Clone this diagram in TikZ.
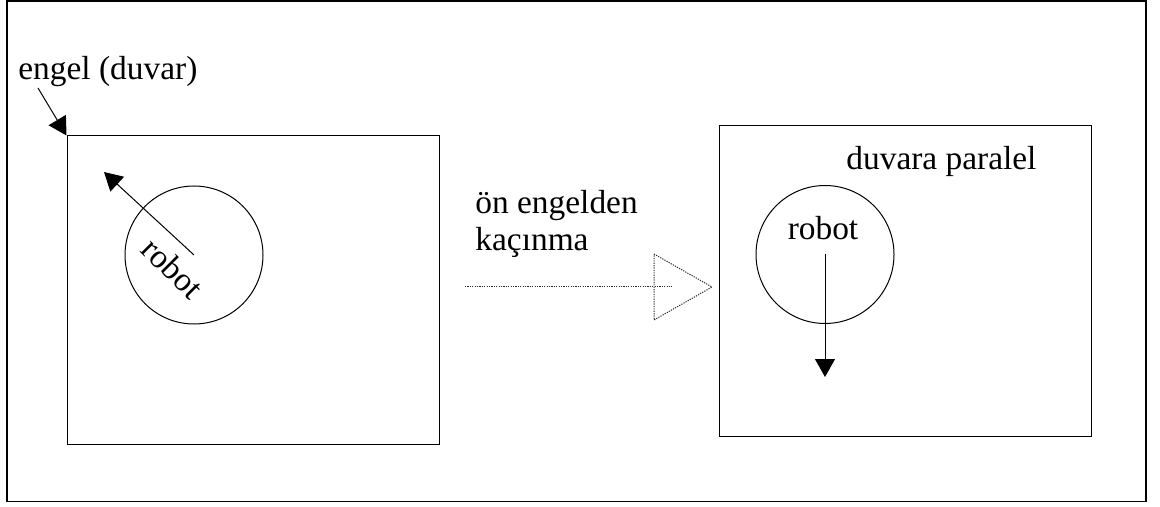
\documentclass[tikz,border=0pt]{standalone}
\usepackage{fontspec}
\setmainfont{Liberation Serif}
\usetikzlibrary{positioning}
\usetikzlibrary{arrows.meta}
\tikzset{
	every node/.style = {font=\fontsize{16.7}{18.5}\selectfont},
	yazi/.style = {inner sep=0pt},
	kutu/.style = {draw, line width=0.5pt, minimum width=186pt, inner sep=0pt},
	govde/.style = {circle, draw, line width=0.5pt, minimum size=69pt, inner sep=0pt},
	yon/.style = {-{Triangle[length=9pt, width=10pt]}, line width=0.5pt},
	noktali/.style = {line width=0.5pt, dash pattern=on 0.6pt off 0.6pt, black!85}
}

\begin{document}
\begin{tikzpicture}[x=0.5pt, y=-0.5pt]
		\useasboundingbox (0,0) rectangle (1160,507);
		% outline
		\draw[line width=0.6pt] (7,1) rectangle (1146,501.5);

		% wall and robot before the turn
		\node[kutu, minimum height=154pt] (engel) at (253,290) {};
		\node[yazi, anchor=base west] (engelyazi) at (18,80) {engel (duvar)};
		\coordinate (engelok) at (38,88);
		\draw[yon] (engelok) -- (engel.north west);
		\node[govde] (robot1) at (194,255) {};
		\coordinate (yon1) at (104,172);
		\draw[yon] (robot1.center) -- (yon1);
		\node[yazi, rotate=-45] (robotyazi1) at (173,268) {robot};

		% transition
		\node[yazi, anchor=north west, align=left] (gecis) at (475,190) {ön engelden\\kaçınma};
		\coordinate (ok1) at (465,287);
		\coordinate (ok2) at (672,287);
		\coordinate (uc1) at (654,254);
		\coordinate (uc2) at (712,287);
		\coordinate (uc3) at (654,320);
		\draw[noktali] (ok1) -- (ok2);
		\draw[noktali] (uc1) -- (uc2) -- (uc3) -- cycle;

		% robot moving along the wall
		\node[kutu, minimum height=155pt] (duvar) at (905,281) {};
		\node[yazi, anchor=base west] (paralel) at (846,170) {duvara paralel};
		\node[govde] (robot2) at (825,254.5) {};
		\node[yazi, anchor=base] (robotyazi2) at (823,240) {robot};
		\coordinate (yon2) at (825,377);
		\draw[yon] (robot2.center) -- (yon2);
\end{tikzpicture}
\end{document}
